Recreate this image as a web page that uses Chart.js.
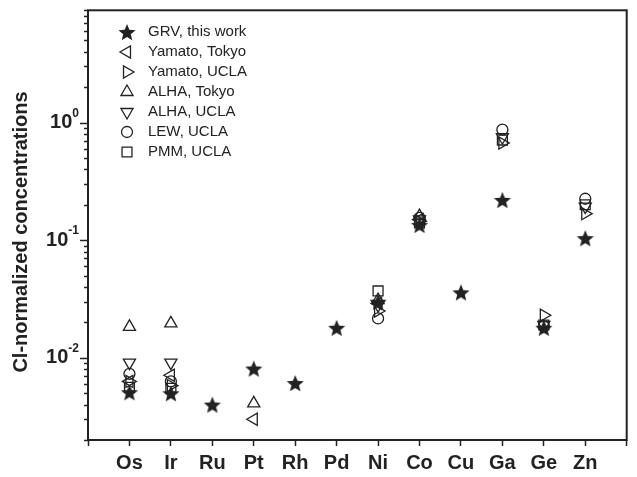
<!DOCTYPE html>
<html lang="en">
<head>
    <meta charset="UTF-8">
    <title>CI-normalized concentrations</title>
    <script src="https://cdn.jsdelivr.net/npm/chart.js"></script>
    <style>
        html, body { margin: 0; padding: 0; background: #fff; }
        #chart { display: block; }
    </style>
</head>
<body>
    <canvas id="chart" width="637" height="477"></canvas>

    <script>
        // elements along the x axis
        const elements = ['Os', 'Ir', 'Ru', 'Pt', 'Rh', 'Pd', 'Ni', 'Co', 'Cu', 'Ga', 'Ge', 'Zn'];

        const grv         = [0.0051, 0.0050, 0.0040, 0.0081, 0.0061, 0.018, 0.030, 0.135, 0.036, 0.22, 0.018, 0.104];
        const yamatoTokyo = [0.0063, 0.0071, null, 0.0030, null, null, 0.029, 0.150, null, null, null, null];
        const yamatoUCLA  = [0.0063, 0.0058, null, null, null, null, 0.025, 0.145, null, 0.67, 0.023, 0.168];
        const alhaTokyo   = [0.0183, 0.0196, null, 0.0041, null, null, 0.031, 0.160, null, null, null, null];
        const alhaUCLA    = [0.0091, 0.0091, null, null, null, null, 0.028, 0.150, null, 0.75, 0.019, 0.193];
        const lewUCLA     = [0.0073, 0.0063, null, null, null, null, 0.0216, 0.155, null, 0.87, 0.0185, 0.225];
        const pmmUCLA     = [0.0056, 0.0055, null, null, null, null, 0.037, 0.140, null, 0.71, 0.019, 0.200];

        const yTicks = [0.01, 0.1, 1];
        const ink = '#222';

        // filled five point star used as a point style
        function makeStar(R) {
            const c = document.createElement('canvas');
            const s = Math.ceil(R * 2 + 2);
            c.width = s; c.height = s;
            const g = c.getContext('2d');
            const r = R * 0.44;
            g.beginPath();
            for (let i = 0; i < 10; i++) {
                const a = -Math.PI / 2 + i * Math.PI / 5;
                const rr = i % 2 === 0 ? R : r;
                const px = s / 2 + Math.cos(a) * rr;
                const py = s / 2 + 1 + Math.sin(a) * rr;
                if (i === 0) g.moveTo(px, py); else g.lineTo(px, py);
            }
            g.closePath();
            g.fillStyle = ink;
            g.fill();
            return c;
        }
        const starImg = makeStar(9);

        function toPoints(arr) {
            return arr.map((v, i) => v == null ? null : { x: i, y: v }).filter(p => p);
        }

        function series(label, arr, style, rotation, radius) {
            return {
                label: label,
                data: toPoints(arr),
                pointStyle: style,
                rotation: rotation,
                pointRadius: radius,
                pointHoverRadius: radius,
                borderColor: ink,
                backgroundColor: 'rgba(0,0,0,0)',
                pointBorderWidth: 1.3,
                showLine: false
            };
        }

        // first dataset is drawn on top
        const datasets = [
            series('GRV, this work', grv, starImg, 0, 9),
            series('Yamato, Tokyo', yamatoTokyo, 'triangle', 270, 7),
            series('Yamato, UCLA', yamatoUCLA, 'triangle', 90, 7),
            series('ALHA, Tokyo', alhaTokyo, 'triangle', 0, 7),
            series('ALHA, UCLA', alhaUCLA, 'triangle', 180, 7),
            series('LEW, UCLA', lewUCLA, 'circle', 0, 5.5),
            series('PMM, UCLA', pmmUCLA, 'rect', 0, 7)
        ];

        const decorations = {
            id: 'decorations',
            afterDraw(chart) {
                const ctx = chart.ctx;
                const a = chart.chartArea;
                const y = chart.scales.y;
                ctx.save();

                // frame
                ctx.strokeStyle = ink;
                ctx.lineWidth = 2;
                ctx.strokeRect(a.left, a.top, a.right - a.left, a.bottom - a.top);

                // log ticks on the y axis
                ctx.lineWidth = 1.5;
                for (let d = -3; d <= 1; d++) {
                    for (let k = 1; k <= 9; k++) {
                        const v = k * Math.pow(10, d);
                        if (v < y.min || v > y.max) continue;
                        const py = Math.round(y.getPixelForValue(v)) + 0.5;
                        const len = k === 1 ? 8 : 4;
                        ctx.beginPath();
                        ctx.moveTo(a.left - len, py);
                        ctx.lineTo(a.left, py);
                        ctx.stroke();
                    }
                }

                // y tick labels with superscript exponents
                ctx.fillStyle = ink;
                ctx.textBaseline = 'middle';
                yTicks.forEach(v => {
                    const py = y.getPixelForValue(v);
                    const exp = String(Math.round(Math.log10(v)));
                    ctx.font = 'bold 20px "Liberation Sans", Arial, sans-serif';
                    const wBase = ctx.measureText('10').width;
                    ctx.font = 'bold 12px "Liberation Sans", Arial, sans-serif';
                    const wExp = ctx.measureText(exp).width;
                    const x0 = a.left - 9 - wBase - wExp;
                    ctx.font = 'bold 20px "Liberation Sans", Arial, sans-serif';
                    ctx.textAlign = 'left';
                    ctx.fillText('10', x0, py);
                    ctx.font = 'bold 12px "Liberation Sans", Arial, sans-serif';
                    ctx.fillText(exp, x0 + wBase, py - 9);
                });

                // y axis title
                ctx.save();
                ctx.translate(21, 232);
                ctx.rotate(-Math.PI / 2);
                ctx.textAlign = 'center';
                ctx.textBaseline = 'middle';
                ctx.font = 'bold 20px "Liberation Sans", Arial, sans-serif';
                ctx.fillText('Cl-normalized concentrations', 0, 0);
                ctx.restore();

                // legend inside the plot
                chart.data.datasets.forEach((ds, i) => {
                    const ly = 32 + i * 20;
                    ctx.strokeStyle = ink;
                    ctx.fillStyle = 'rgba(0,0,0,0)';
                    ctx.lineWidth = ds.pointBorderWidth;
                    Chart.helpers.drawPoint(ctx, {
                        pointStyle: ds.pointStyle,
                        rotation: ds.rotation,
                        radius: ds.pointRadius,
                        borderWidth: ds.pointBorderWidth
                    }, 127, ly);
                    ctx.fillStyle = ink;
                    ctx.font = '15px "Liberation Sans", Arial, sans-serif';
                    ctx.textAlign = 'left';
                    ctx.textBaseline = 'middle';
                    ctx.fillText(ds.label, 148, ly);
                });

                ctx.restore();
            }
        };

        new Chart(document.getElementById('chart'), {
            type: 'scatter',
            data: { datasets: datasets },
            options: {
                responsive: false,
                animation: false,
                layout: { padding: { top: 7, right: 9, left: 0, bottom: 0 } },
                plugins: {
                    legend: { display: false },
                    tooltip: { enabled: false }
                },
                scales: {
                    x: {
                        type: 'linear',
                        min: -1,
                        max: 12,
                        afterFit(scale) { scale.height = 37; },
                        border: { display: false },
                        grid: {
                            drawOnChartArea: false,
                            drawTicks: true,
                            tickLength: 6,
                            tickColor: ink,
                            tickWidth: 1.5
                        },
                        ticks: {
                            stepSize: 1,
                            autoSkip: false,
                            maxRotation: 0,
                            padding: 5,
                            color: ink,
                            font: { family: '"Liberation Sans", Arial, sans-serif', size: 20, weight: 'bold' },
                            callback: v => elements[v] || ''
                        }
                    },
                    y: {
                        type: 'logarithmic',
                        min: 0.002,
                        max: 9,
                        afterFit(scale) { scale.width = 88; },
                        border: { display: false },
                        grid: { display: false },
                        ticks: { display: false }
                    }
                }
            },
            plugins: [decorations]
        });
    </script>
</body>
</html>
